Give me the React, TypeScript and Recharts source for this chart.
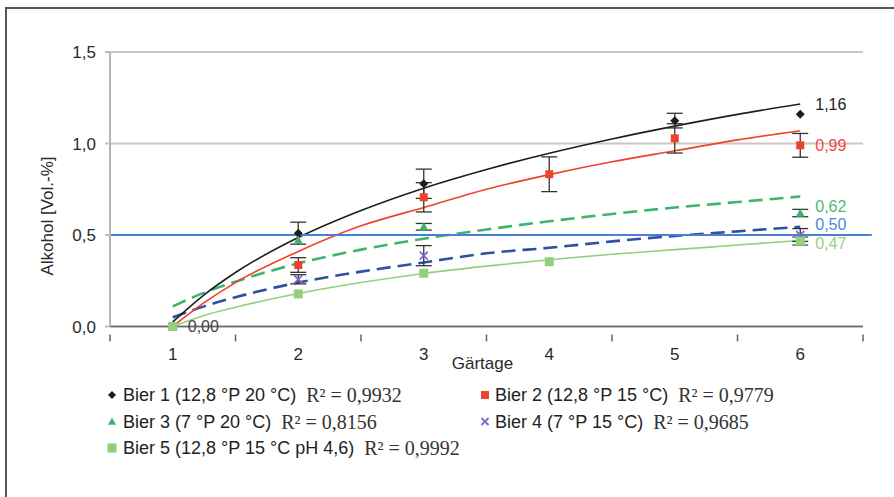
import React from "react";
import {
  ComposedChart,
  Line,
  Scatter,
  ErrorBar,
  XAxis,
  YAxis,
  CartesianGrid,
  ReferenceLine,
  ReferenceDot,
} from "recharts";

// Messpunkte (Gärtage 1-6), null = kein Messwert
const days = [1, 2, 3, 4, 5, 6];
const bier1 = [0, 0.51, 0.78, null, 1.125, 1.16];
const bier1Err = [null, 0.06, 0.08, null, 0.04, null];
const bier2 = [0, 0.336, 0.706, 0.832, 1.028, 0.99];
const bier2Err = [null, 0.04, 0.08, 0.095, 0.08, 0.065];
const bier3 = [0, 0.473, 0.545, null, null, 0.62];
const bier3Err = [null, null, 0.018, null, null, 0.02];
const bier4 = [0, 0.258, 0.387, null, null, 0.5];
const bier4Err = [null, 0.025, 0.055, null, null, 0.035];
const bier5 = [0, 0.178, 0.291, 0.354, null, 0.467];
const bier5Err = [null, null, null, null, null, 0.022];

// Trendlinien
const trendDays = [1, 1.25, 1.5, 2, 2.5, 3, 3.5, 4, 4.5, 5, 5.5, 6];
const trend1 = [0.025, 0.173, 0.295, 0.486, 0.634, 0.756, 0.858, 0.947, 1.025, 1.095, 1.159, 1.216];
const trend2 = [0, 0.13, 0.24, 0.41, 0.55, 0.65, 0.75, 0.83, 0.9, 0.96, 1.02, 1.07];
const trend3 = [0.11, 0.185, 0.245, 0.345, 0.42, 0.48, 0.53, 0.575, 0.615, 0.65, 0.68, 0.71];
const trend4 = [0.05, 0.11, 0.16, 0.24, 0.3, 0.35, 0.4, 0.43, 0.465, 0.495, 0.52, 0.545];
const trend5 = [0, 0.06, 0.105, 0.18, 0.24, 0.29, 0.33, 0.365, 0.395, 0.42, 0.445, 0.47];

const yTicks = [0, 0.5, 1, 1.5];
const xTicks = [0.5, 1, 1.5, 2, 2.5, 3, 3.5, 4, 4.5, 5, 5.5, 6, 6.5];

const legendNames = [
  "Bier 1 (12,8 °P 20 °C)",
  "Bier 2 (12,8 °P 15 °C)",
  "Bier 3 (7 °P 20 °C)",
  "Bier 4 (7 °P 15 °C)",
  "Bier 5 (12,8 °P 15 °C pH 4,6)",
];
const legendR2 = ["0,9932", "0,9779", "0,8156", "0,9685", "0,9992"];

const FONT = "'Liberation Sans', Arial, sans-serif";
const C1 = "#1e1e1e";
const C2 = "#f0412c";
const C3 = "#3db56c";
const C4 = "#2d52a3";
const C4m = "#7a6cc4";
const C5 = "#92d07c";

const points = (ys: (number | null)[], errs: (number | null)[]) =>
  days
    .map((d, i) => ({ x: d, y: ys[i], err: errs[i] }))
    .filter((p) => p.y !== null);

const trend = (ys: number[]) => trendDays.map((d, i) => ({ x: d, y: ys[i] }));

const fmt = (v: number, digits: number) => v.toFixed(digits).replace(".", ",");

function Diamond({ cx, cy, color = C1, r = 4.5 }: any) {
  return <path d={`M${cx},${cy - r}L${cx + r},${cy}L${cx},${cy + r}L${cx - r},${cy}Z`} fill={color} />;
}
function Square({ cx, cy, color, s = 8 }: any) {
  return <rect x={cx - s / 2} y={cy - s / 2} width={s} height={s} fill={color} />;
}
function Triangle({ cx, cy, color = C3, r = 4.5 }: any) {
  return <path d={`M${cx},${cy - r}L${cx + r},${cy + r * 0.8}L${cx - r},${cy + r * 0.8}Z`} fill={color} />;
}
function Cross({ cx, cy, color = C4m, r = 4 }: any) {
  return (
    <path
      d={`M${cx - r},${cy - r}L${cx + r},${cy + r}M${cx - r},${cy + r}L${cx + r},${cy - r}`}
      stroke={color}
      strokeWidth={1.8}
    />
  );
}

function XTick({ x, y, payload }: any) {
  const v = payload.value;
  if (Number.isInteger(v)) {
    return (
      <text x={x} y={y + 20} textAnchor="middle" dominantBaseline="central" fill="#2a2a2a" fontSize={17} fontFamily={FONT}>
        {v}
      </text>
    );
  }
  return <line x1={x} x2={x} y1={y} y2={y + 7} stroke="#666" strokeWidth={1.5} />;
}

const endLabel = (text: string, color: string, dy: number) => (props: any) => {
  const vb = props.viewBox;
  return (
    <text
      x={vb.x + 15}
      y={vb.y + dy}
      dominantBaseline="central"
      fill={color}
      fontSize={16}
      fontFamily={FONT}
    >
      {text}
    </text>
  );
};

function Legend() {
  const rows = [
    { i: 0, col: 0, row: 0, mark: <Diamond cx={112} cy={0} r={4} /> },
    { i: 2, col: 0, row: 1, mark: <Triangle cx={112} cy={0} r={4} /> },
    { i: 4, col: 0, row: 2, mark: <Square cx={112} cy={0} color={C5} s={9} /> },
    { i: 1, col: 1, row: 0, mark: <Square cx={485} cy={0} color={C2} s={8} /> },
    { i: 3, col: 1, row: 1, mark: <Cross cx={485} cy={0} r={3.5} /> },
  ];
  return (
    <svg width={894} height={100} style={{ position: "absolute", left: 0, top: 370 }}>
      {rows.map((r) => {
        const y = 25 + r.row * 26.5;
        const tx = r.col === 0 ? 123 : 495;
        return (
          <g key={r.i}>
            <g transform={`translate(0,${y})`}>{r.mark}</g>
            <text x={tx} y={y} dominantBaseline="central" fontFamily={FONT} fontSize={18} fill="#222">
              {legendNames[r.i]}
              <tspan dx={10} fontFamily="'Liberation Serif', 'Times New Roman', serif" fontSize={20} fill="#333">
                R² = {legendR2[r.i]}
              </tspan>
            </text>
          </g>
        );
      })}
    </svg>
  );
}

export default function App() {
  return (
    <div style={{ position: "absolute", left: 0, top: 0, width: 894, height: 497, background: "#fff", overflow: "hidden" }}>
      <div
        style={{
          position: "absolute",
          left: 5,
          top: 7,
          width: 900,
          height: 500,
          borderLeft: "2px solid #555",
          borderTop: "2px solid #555",
        }}
      />
      <ComposedChart
        width={894}
        height={497}
        margin={{ top: 52, right: 31, bottom: 140.5, left: 0 }}
        style={{ position: "absolute", left: 0, top: 0 }}
      >
        <CartesianGrid vertical={false} stroke="#cac6c6" strokeWidth={2} />
        <XAxis
          type="number"
          dataKey="x"
          domain={[0.5, 6.5]}
          ticks={xTicks}
          interval={0}
          height={30}
          allowDataOverflow
          tick={<XTick />}
          tickLine={false}
          axisLine={{ stroke: "#666", strokeWidth: 1.5 }}
          label={{
            content: (p: any) => (
              <text
                x={p.viewBox.x + p.viewBox.width / 2 - 4}
                y={363}
                textAnchor="middle"
                dominantBaseline="central"
                fontFamily={FONT}
                fontSize={17}
                fill="#2a2a2a"
              >
                Gärtage
              </text>
            ),
          }}
        />
        <YAxis
          type="number"
          domain={[0, 1.5]}
          ticks={yTicks}
          width={110}
          tickSize={5}
          tickMargin={9}
          tickFormatter={(v: number) => fmt(v, 1)}
          tick={{ fill: "#2a2a2a", fontSize: 17, fontFamily: FONT }}
          tickLine={{ stroke: "#c0bcbc", strokeWidth: 2 }}
          axisLine={{ stroke: "#b8b4b4", strokeWidth: 2 }}
          label={{
            content: () => (
              <text
                x={47}
                y={216}
                transform="rotate(-90 47 216)"
                textAnchor="middle"
                dominantBaseline="central"
                fontFamily={FONT}
                fontSize={17}
                fill="#2a2a2a"
              >
                Alkohol [Vol.-%]
              </text>
            ),
          }}
        />
        <Line data={trend(trend5)} dataKey="y" type="monotone" stroke={C5} strokeWidth={1.6} dot={false} isAnimationActive={false} />
        <Line data={trend(trend4)} dataKey="y" type="monotone" stroke={C4} strokeWidth={2.6} strokeDasharray="14 7" dot={false} isAnimationActive={false} />
        <Line data={trend(trend3)} dataKey="y" type="monotone" stroke={C3} strokeWidth={2.6} strokeDasharray="14 7" dot={false} isAnimationActive={false} />
        <Line data={trend(trend2)} dataKey="y" type="monotone" stroke={C2} strokeWidth={1.6} dot={false} isAnimationActive={false} />
        <Line data={trend(trend1)} dataKey="y" type="monotone" stroke={C1} strokeWidth={1.6} dot={false} isAnimationActive={false} />
        <ReferenceLine
          segment={[{ x: 0.465, y: 0.5 }, { x: 6.57, y: 0.5 }]}
          ifOverflow="visible"
          stroke="#4a7fd2"
          strokeWidth={2}
        />
        <Scatter data={points(bier1, bier1Err)} dataKey="y" shape={(p: any) => <Diamond {...p} />} isAnimationActive={false}>
          <ErrorBar dataKey="err" direction="y" width={8} stroke="#333" strokeWidth={1.3} />
        </Scatter>
        <Scatter data={points(bier2, bier2Err)} dataKey="y" shape={(p: any) => <Square {...p} color={C2} />} isAnimationActive={false}>
          <ErrorBar dataKey="err" direction="y" width={8} stroke="#333" strokeWidth={1.3} />
        </Scatter>
        <Scatter data={points(bier3, bier3Err)} dataKey="y" shape={(p: any) => <Triangle {...p} />} isAnimationActive={false}>
          <ErrorBar dataKey="err" direction="y" width={8} stroke="#333" strokeWidth={1.3} />
        </Scatter>
        <Scatter data={points(bier4, bier4Err)} dataKey="y" shape={(p: any) => <Cross {...p} />} isAnimationActive={false}>
          <ErrorBar dataKey="err" direction="y" width={8} stroke="#333" strokeWidth={1.3} />
        </Scatter>
        <Scatter data={points(bier5, bier5Err)} dataKey="y" shape={(p: any) => <Square {...p} color={C5} s={9} />} isAnimationActive={false}>
          <ErrorBar dataKey="err" direction="y" width={8} stroke="#555" strokeWidth={1.3} />
        </Scatter>
        <ReferenceDot x={days[5]} y={bier1[5]!} r={0} ifOverflow="visible" label={{ content: endLabel(fmt(bier1[5]!, 2), "#222", -10) }} />
        <ReferenceDot x={days[5]} y={bier2[5]!} r={0} ifOverflow="visible" label={{ content: endLabel(fmt(bier2[5]!, 2), "#f0483a", 0) }} />
        <ReferenceDot x={days[5]} y={bier3[5]!} r={0} ifOverflow="visible" label={{ content: endLabel(fmt(bier3[5]!, 2), "#4cb97a", -7) }} />
        <ReferenceDot x={days[5]} y={bier4[5]!} r={0} ifOverflow="visible" label={{ content: endLabel(fmt(bier4[5]!, 2), "#4a8ad8", -10.5) }} />
        <ReferenceDot x={days[5]} y={bier5[5]!} r={0} ifOverflow="visible" label={{ content: endLabel(fmt(bier5[5]!, 2), "#9ad07e", 2.5) }} />
        <ReferenceDot x={days[0]} y={bier5[0]!} r={0} ifOverflow="visible" label={{ content: endLabel(fmt(bier5[0]!, 2), "#444", 0) }} />
      </ComposedChart>
      <Legend />
    </div>
  );
}
